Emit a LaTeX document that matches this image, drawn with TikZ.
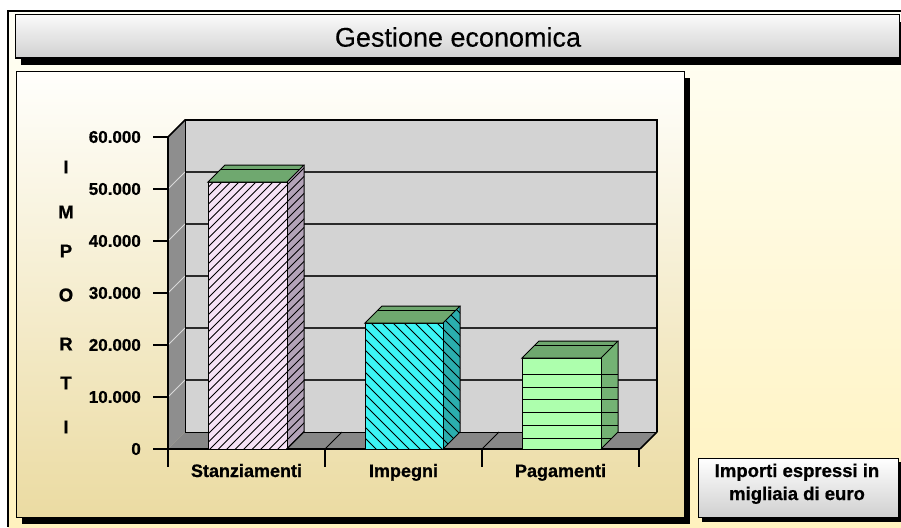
\documentclass[tikz,border=0pt]{standalone}
\usepackage{fontspec}
\setmainfont{Liberation Sans}
\newfontfamily\hvb[FakeBold=0.8]{Liberation Sans Bold}
\newfontfamily\titlefont[FakeBold=0.3]{Liberation Sans}
\definecolor{bgtop}{HTML}{FFFFF6}
\definecolor{bgbot}{HTML}{FFF2BE}
\definecolor{paneltop}{HTML}{FFFFFC}
\definecolor{panelbot}{HTML}{EBDBA2}
\definecolor{titletop}{HTML}{FAFAFA}
\definecolor{titlebot}{HTML}{D0D0D0}
\definecolor{wallback}{HTML}{D3D3D3}
\definecolor{wallleft}{HTML}{8E8E8E}
\definecolor{floorc}{HTML}{878787}
\definecolor{gridc}{HTML}{2A2A2A}
\definecolor{stzf}{HTML}{F6E2F6}
\definecolor{stzs}{HTML}{B3A3B8}
\definecolor{impf}{HTML}{3CF5F5}
\definecolor{imps}{HTML}{2BAEAE}
\definecolor{pagf}{HTML}{ADFFAD}
\definecolor{pags}{HTML}{74B274}
\definecolor{topg}{HTML}{6FA86F}
\begin{document}
\begin{tikzpicture}[x=1pt,y=-1pt,
  ylab/.style={anchor=east,inner sep=0pt,font=\fontsize{17}{20}\selectfont\hvb},
  catlab/.style={anchor=base,inner sep=0pt,font=\fontsize{18}{21}\selectfont\hvb},
  vlet/.style={inner sep=0pt,font=\fontsize{18.5}{21}\selectfont\hvb},
  notelab/.style={anchor=base,inner sep=0pt,font=\fontsize{18.5}{22}\selectfont\hvb},
  barline/.style={line width=1pt,line join=miter},
  hatch/.style={line width=0.8pt}]
\useasboundingbox (0,0) rectangle (901,527);
\clip (0,0) rectangle (901,527);
\fill[white] (0,0) rectangle (901,527);
\shade[top color=bgtop,bottom color=bgbot] (8,11) rectangle (901,527);
\draw[line width=1.2pt] (8,527) -- (8,11) -- (901,11);
% title bar
\fill[black] (21,22) rectangle (906,65);
\shade[top color=titletop,bottom color=titlebot] (15,15) rectangle (899,58);
\draw[line width=1pt] (15,15) rectangle (899,58);
\node[inner sep=0pt,font=\fontsize{27}{30}\selectfont\titlefont] (title) at (458,37) {Gestione economica};
% chart panel
\fill[black] (22,78) rectangle (690,524);
\shade[top color=paneltop,bottom color=panelbot] (16,71) rectangle (684,517);
\draw[line width=1pt] (16,71) rectangle (684,517);
% walls
\fill[wallleft] (168,449) -- (168,137) -- (185,120) -- (185,432) -- cycle;
\fill[wallback] (185,120) rectangle (657,432);
\foreach \k in {1,...,5} {
  \draw[gridc,line width=1.2pt] (185,{432-52*\k}) -- (657,{432-52*\k});
  \draw[white!70!gray,line width=0.8pt] (168,{449-52*\k}) -- (185,{432-52*\k});
}
\draw[line width=0.8pt] (185,120) -- (185,432);
\draw[line width=1.6pt] (168,137) -- (185,120) -- (657,120) -- (657,432);
% floor
\fill[floorc] (168,449) -- (640,449) -- (657,432) -- (185,432) -- cycle;
\draw[line width=1pt] (185,432) -- (657,432);
\draw[line width=1pt] (325,449) -- (342,432);
\draw[line width=1pt] (482,449) -- (499,432);
\draw[line width=1.6pt] (640,449) -- (657,432);
% axes
\draw[line width=1.5pt] (168,137) -- (168,467);
\draw[line width=1.5pt] (153,449) -- (640,449);
\foreach \k in {1,...,6} \draw[line width=1.2pt] (153,{449-52*\k}) -- (168,{449-52*\k});
\foreach \xx in {325,482,639} \draw[line width=1.2pt] (\xx,449) -- (\xx,467);
% bar 1: Stanziamenti
\begin{scope}
\clip (208,449) -- (208,182) -- (287,182) -- (304,165) -- (304,432) -- (287,449) -- cycle;
\fill[stzf] (208,182) rectangle (287,449);
\fill[stzs] (287,449) -- (287,182) -- (304,165) -- (304,432) -- cycle;
\foreach \i in {0,...,46} \draw[hatch] ({-82+\i*8.5},452) -- ++(290,-290);
\end{scope}
\draw[barline] (208,182) rectangle (287,449);
\draw[barline] (287,449) -- (304,432) -- (304,165);
\filldraw[fill=topg,barline] (208,182) -- (225,165) -- (304,165) -- (287,182) -- cycle;
\draw[line width=0.8pt] (221,169) -- (300,169);
% bar 2: Impegni
\begin{scope}
\clip (365,449) -- (365,323) -- (443,323) -- (460,306) -- (460,432) -- (443,449) -- cycle;
\fill[impf] (365,323) rectangle (443,449);
\fill[imps] (443,449) -- (443,323) -- (460,306) -- (460,432) -- cycle;
\foreach \i in {0,...,24} \draw[hatch] ({205+\i*11},300) -- ++(160,160);
\end{scope}
\draw[barline] (365,323) rectangle (443,449);
\draw[barline] (443,449) -- (460,432) -- (460,306);
\filldraw[fill=topg,barline] (365,323) -- (382,306) -- (460,306) -- (443,323) -- cycle;
\draw[line width=0.8pt] (378,310) -- (456,310);
% bar 3: Pagamenti
\begin{scope}
\clip (522,449) -- (522,358) -- (601,358) -- (618,341) -- (618,432) -- (601,449) -- cycle;
\fill[pagf] (522,358) rectangle (601,449);
\fill[pags] (601,449) -- (601,358) -- (618,341) -- (618,432) -- cycle;
\foreach \k in {0,...,5} \draw[line width=1pt] (522,{438.3-12.8*\k}) -- (618,{438.3-12.8*\k});
\end{scope}
\draw[barline] (522,358) rectangle (601,449);
\draw[barline] (601,449) -- (618,432) -- (618,341);
\filldraw[fill=topg,barline] (522,358) -- (539,341) -- (618,341) -- (601,358) -- cycle;
\draw[line width=0.8pt] (535,345) -- (614,345);
% y labels
\node[ylab] (y0) at (141,449) {0};
\node[ylab] (y1) at (141,397) {10.000};
\node[ylab] (y2) at (141,345) {20.000};
\node[ylab] (y3) at (141,293) {30.000};
\node[ylab] (y4) at (141,241) {40.000};
\node[ylab] (y5) at (141,189) {50.000};
\node[ylab] (y6) at (141,137) {60.000};
% vertical axis title
\node[vlet] (v1) at (66,167) {I};
\node[vlet] (v2) at (66,212) {M};
\node[vlet] (v3) at (66,251) {P};
\node[vlet] (v4) at (66,295) {O};
\node[vlet] (v5) at (66,344) {R};
\node[vlet] (v6) at (66,383) {T};
\node[vlet] (v7) at (66,427) {I};
% categories
\node[catlab] (c1) at (246.5,477) {Stanziamenti};
\node[catlab] (c2) at (403.5,477) {Impegni};
\node[catlab] (c3) at (560.5,477) {Pagamenti};
% note box
\fill[black] (702,462) rectangle (902,522);
\shade[top color=white,bottom color=titlebot] (698,458) rectangle (898,517);
\draw[line width=1pt] (698,458) rectangle (898,517);
\node[notelab] (n1) at (797,477) {Importi espressi in};
\node[notelab] (n2) at (797,500) {migliaia di euro};
\end{tikzpicture}
\end{document}
